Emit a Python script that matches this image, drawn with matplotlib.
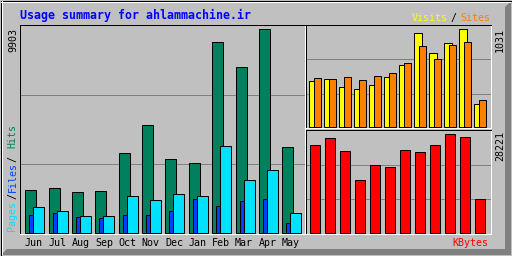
import numpy as np
from matplotlib import pyplot as plt
from matplotlib.patches import Polygon, Rectangle

months = ["Jun", "Jul", "Aug", "Sep", "Oct", "Nov", "Dec", "Jan", "Feb", "Mar", "Apr", "May"]
hits = [2064, 2162, 1967, 2016, 3866, 5229, 3574, 3379, 9285, 8053, 9903, 4158]
files = [847, 945, 750, 701, 847, 847, 1042, 1626, 1285, 1529, 1626, 458]
pages = [1237, 1042, 798, 798, 1772, 1578, 1870, 1772, 4207, 2551, 3038, 945]
visits = [485, 503, 419, 398, 440, 524, 651, 989, 778, 883, 1031, 240]
sites = [514, 503, 524, 493, 535, 567, 672, 852, 714, 862, 894, 282]
kbytes = [25066, 27073, 23345, 15028, 19330, 18756, 23632, 23058, 25066, 28221, 27360, 9579]

HIT = "#00805C"
FILE = "#0040FF"
PAGE = "#00E0FF"
VISIT = "#FFFF00"
SITE = "#FF8000"
KB = "#FF0000"
BG = "#C0C0C0"
GRID = "#808080"
MONO = "DejaVu Sans Mono"
LW = 0.72  # 1 px at 100 dpi

W, H = 512, 256


def fpos(x, y):
    # pixel (from top-left) -> figure fraction
    return x / W, 1 - y / H


def panel(l, t, r, b):
    return [l / W, 1 - b / H, (r - l) / W, (b - t) / H]


fig = plt.figure(figsize=(5.12, 2.56), dpi=100, facecolor=BG)

# frame / bevel
bg = fig.add_axes([0, 0, 1, 1], zorder=-1)
bg.set_xlim(0, W)
bg.set_ylim(H, 0)
bg.axis("off")
bg.add_patch(Polygon([(505, 7), (511, 1), (511, 255), (1, 255), (7, 249), (505, 249)],
                     closed=True, facecolor=GRID, edgecolor="none"))
bg.plot([1, 510], [1.5, 1.5], color="white", lw=LW)
bg.plot([1.5, 1.5], [1, 254], color="white", lw=LW)
bg.add_patch(Rectangle((0.5, 0.5), 511, 255, fill=False, edgecolor="black", lw=LW))


def style(ax):
    ax.set_facecolor(BG)
    for s in ["top", "left"]:
        ax.spines[s].set_color("black")
    for s in ["bottom", "right"]:
        ax.spines[s].set_color("white")
    for s in ax.spines.values():
        s.set_linewidth(LW)
    ax.set_yticks([])
    for f in [1 / 3, 2 / 3]:
        ax.plot([0, 1], [f, f], transform=ax.transAxes, color=GRID, lw=LW, zorder=0.5)


idx = np.arange(len(months))

# main panel: hits / files / pages
ax = fig.add_axes(panel(20, 25, 305, 234))
style(ax)
sp = 23.36
s = 9903 / (232.7 - 29.3)
ax.set_ylim(-(234 - 232.7) * s, 9903 + (29.3 - 25) * s)
ax.set_xlim(-5.3 / sp, -5.3 / sp + 285 / sp)
ax.bar(idx, hits, width=11 / sp, align="edge", color=HIT, edgecolor="black", lw=LW, zorder=2)
ax.bar(idx + 4 / sp, files, width=8 / sp, align="edge", color=FILE, edgecolor="black", lw=LW, zorder=3)
ax.bar(idx + 8 / sp, pages, width=11 / sp, align="edge", color=PAGE, edgecolor="black", lw=LW, zorder=4)
ax.set_xticks(idx + 8.5 / sp)
ax.set_xticklabels(months, family=MONO, fontsize=7.2)
ax.tick_params(axis="x", length=0, pad=3)

# visits / sites
ax2 = fig.add_axes(panel(306, 25, 491, 128))
style(ax2)
sp2 = 15
s2 = 1031 / (127.3 - 29.3)
ax2.set_ylim(-(128 - 127.3) * s2, 1031 + (29.3 - 25) * s2)
ax2.set_xlim(-3.3 / sp2, -3.3 / sp2 + 185 / sp2)
ax2.bar(idx, visits, width=7.3 / sp2, align="edge", color=VISIT, edgecolor="black", lw=LW, zorder=2)
ax2.bar(idx + 4.2 / sp2, sites, width=7.3 / sp2, align="edge", color=SITE, edgecolor="black", lw=LW, zorder=3)
ax2.set_xticks([])

# kbytes
ax3 = fig.add_axes(panel(306, 130, 491, 234))
style(ax3)
s3 = 28221 / (232.7 - 134.3)
ax3.set_ylim(-(234 - 232.7) * s3, 28221 + (134.3 - 130) * s3)
ax3.set_xlim(-3.3 / sp2, -3.3 / sp2 + 185 / sp2)
ax3.bar(idx + 1 / sp2, kbytes, width=9.3 / sp2, align="edge", color=KB, edgecolor="black", lw=LW, zorder=2)
ax3.set_xticks([])

# texts
fig.text(*fpos(20, 19), "Usage summary for ahlammachine.ir", family=MONO, fontsize=8.4,
         fontweight="bold", color="#0000FF", ha="left", va="baseline")
fig.text(*fpos(411.5, 21), "Visits", family=MONO, fontsize=7.2, color=VISIT, ha="left", va="baseline")
fig.text(*fpos(453.5, 21), "/", family=MONO, fontsize=7.2, color="black", ha="center", va="baseline")
fig.text(*fpos(460, 21), "Sites", family=MONO, fontsize=7.2, color=SITE, ha="left", va="baseline")
fig.text(*fpos(488.5, 246), "KBytes", family=MONO, fontsize=7.2, color=KB, ha="right", va="baseline")

fig.text(*fpos(13, 28), str(max(hits)), family=MONO, fontsize=7.2, rotation=90, ha="center", va="top")
fig.text(*fpos(500, 28), str(max(visits)), family=MONO, fontsize=7.2, rotation=90, ha="center", va="top")
fig.text(*fpos(500, 131), str(max(kbytes)), family=MONO, fontsize=7.2, rotation=90, ha="center", va="top")

fig.text(*fpos(12.5, 231), "Pages", family=MONO, fontsize=7.2, color=PAGE, rotation=90, ha="center", va="bottom")
fig.text(*fpos(12.5, 196), "/", family=MONO, fontsize=7.2, color="black", rotation=90, ha="center", va="center")
fig.text(*fpos(12.5, 191.5), "Files", family=MONO, fontsize=7.2, color=FILE, rotation=90, ha="center", va="bottom")
fig.text(*fpos(12.5, 159.5), "/", family=MONO, fontsize=7.2, color="black", rotation=90, ha="center", va="center")
fig.text(*fpos(12.5, 124), "Hits", family=MONO, fontsize=7.2, color=HIT, rotation=90, ha="center", va="top")

fig.savefig("out.png", dpi=100, facecolor=BG)
